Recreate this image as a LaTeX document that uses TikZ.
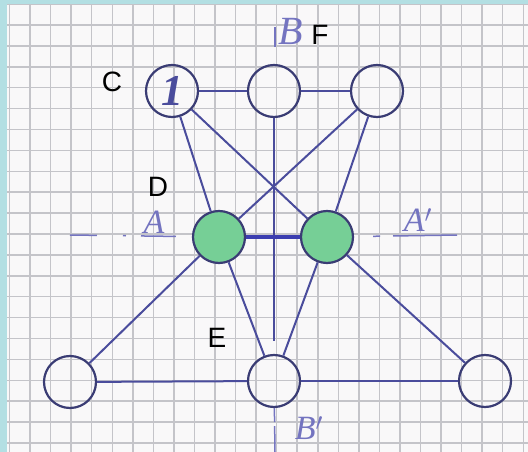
\documentclass[tikz,border=0pt]{standalone}
\usepackage{fontspec}
\setmainfont{Liberation Sans}
\newfontfamily\hand{Liberation Serif}
\usetikzlibrary{positioning}
\definecolor{ink}{HTML}{4A4C9C}
\definecolor{rim}{HTML}{3A3C74}
\definecolor{pen}{HTML}{7474C0}
\definecolor{leaf}{HTML}{76CF96}
\definecolor{sky}{HTML}{B3DFE3}
\definecolor{paper}{HTML}{F9F8F9}
\definecolor{gridc}{HTML}{C4C4C9}

\begin{document}
\begin{tikzpicture}[
  x=1pt,y=-1pt,
  disc/.style={circle,draw=rim,line width=2.2pt,minimum size=52pt,inner sep=0pt},
  fulldisc/.style={disc,fill=leaf},
  edge/.style={ink,line width=2pt},
  axis/.style={pen,line width=1.5pt},
  tag/.style={font=\fontsize{28}{30}\selectfont,inner sep=0pt},
  hand/.style={text=pen,font=\hand\itshape\fontsize{34}{36}\selectfont,inner sep=0pt}]
\useasboundingbox (0,0) rectangle (528,452);

% ---------- sheet of squared paper ----------
\fill[sky] (0,0) rectangle (528,452);
\fill[paper] (7,5) rectangle (528,452);
\begin{scope}
\clip (7,5) rectangle (528,452);
\begin{scope}[shift={(9.5,4.1)}]
\draw[gridc,line width=1.5pt,xstep=20.55pt,ystep=20.9pt] (-30,-30) grid (540,470);
\end{scope}
\end{scope}

% ---------- top row ----------
\node[disc,hand,text=ink,font=\hand\itshape\bfseries\fontsize{44}{46}\selectfont] (t1) at (172,91) {1};
\node[disc] (t2) at (274,91) {};
\node[disc] (t3) at (377,91) {};
% ---------- the two green discs on A--A' ----------
\node[fulldisc] (g1) at (219,237) {};
\node[fulldisc] (g2) at (327,237) {};
% ---------- bottom row ----------
\node[disc] (b1) at (70,382) {};
\node[disc] (b2) at (274,381) {};
\node[disc] (b3) at (485,381) {};

% ---------- axes A--A' and B--B' ----------
\coordinate (A1) at (70,235);
\coordinate (A2) at (457,235);
\coordinate (B1) at (275,27);
\coordinate (B2) at (275,47);
\coordinate (B3) at (275,452);
\draw[axis,dash pattern=on 27pt off 26pt on 3pt off 15pt on 35pt off 80pt] (A1) -- (g1);
\draw[axis,dash pattern=on 64pt off 13pt on 7pt off 40pt] (A2) -- (g2);
\draw[axis] (B1) -- (B2);
\draw[axis,dash pattern=on 14pt off 4pt on 40pt] (b2) -- (B3);
\node[hand] (la) at (154,222) {A};
\node[hand] (laa) at (418,220) {A$'$};
\node[hand,font=\hand\itshape\fontsize{40}{42}\selectfont] (lb) at (291,31) {B};
\node[hand] (lbb) at (309,428) {B$'$};

% ---------- connectors ----------
\draw[edge] (t1) -- (t2);
\draw[edge] (t2) -- (t3);
\draw[edge] (t1) -- (g1);
\draw[edge] (t1) -- (g2);
\draw[edge] (t3) -- (g1);
\draw[edge] (t3) -- (g2);
\draw[edge,shorten >=13pt] (t2) -- (b2);
\draw[edge,line width=3.6pt,color=ink!80!blue] (g1) -- (g2);
\draw[edge] (g1) -- (b1);
\draw[edge] (g1) -- (b2);
\draw[edge] (g2) -- (b2);
\draw[edge] (g2) -- (b3);
\draw[edge] (b1) -- (b2);
\draw[edge] (b2) -- (b3);

% ---------- letters ----------
\node[tag] (lc) at (112,82) {C};
\node[tag] (lf) at (320,35) {F};
\node[tag] (ld) at (158,187) {D};
\node[tag] (le) at (217,338) {E};
\end{tikzpicture}
\end{document}
